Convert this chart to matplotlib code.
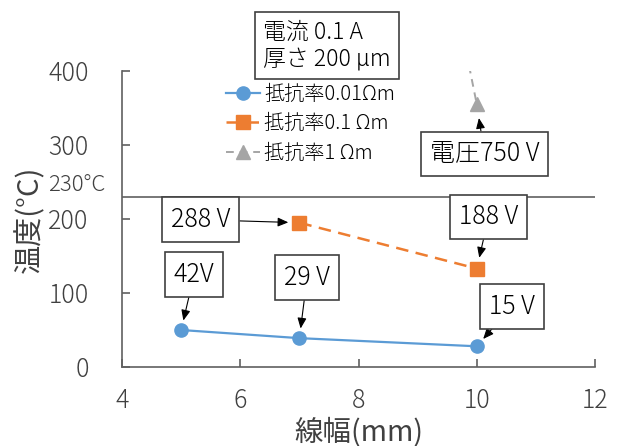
# -*- coding: utf-8 -*-

import matplotlib
matplotlib.use("Agg")
import matplotlib.pyplot as plt

plt.rcParams["font.family"] = ["Noto Sans CJK JP", "DejaVu Sans"]
plt.rcParams["font.weight"] = "light"

# データ
width_001 = [5, 7, 10]
temp_001 = [50, 39, 28]
volt_001 = ["42V", "29 V", "15 V"]

width_01 = [7, 10]
temp_01 = [195, 133]
volt_01 = ["288 V", "188 V"]

width_1 = [7, 10]
temp_1 = [1550, 355]
volt_1 = ["電圧750 V"]

labels = ["抵抗率0.01Ωm", "抵抗率0.1 Ωm", "抵抗率1 Ωm"]
limit_temp = 230

# ラベルの位置 (データ座標)
pos_001 = [(5.22, 125), (7.13, 121), (10.59, 82)]
pos_01 = [(5.33, 199), (10.20, 203)]
pos_1 = [(10.13, 288)]


def set_display(fig, ax):
    """
    表示周りの設定
    """
    ax.spines["right"].set_visible(False)
    ax.spines["top"].set_visible(False)
    for s in ["left", "bottom"]:
        ax.spines[s].set_color("#606060")
        ax.spines[s].set_linewidth(1.2)

    ax.set_xlim(4, 12)
    ax.set_ylim(0, 400)
    ax.set_xticks([4, 6, 8, 10, 12])
    ax.set_yticks([0, 100, 200, 300, 400])

    ax.tick_params(axis="both", direction="in", length=6, width=1.2,
                   color="#606060", labelsize=18, labelcolor="#404040")
    ax.tick_params(axis="y", pad=24)
    ax.tick_params(axis="x", pad=15)

    ax.set_xlabel("線幅(mm)", fontsize=20.5, color="#404040", labelpad=2)
    ax.set_ylabel("温度(°C)", fontsize=21, color="#404040", labelpad=2)


def note(ax, text, target, pos, shrink):
    ax.annotate(text, xy=target, xytext=pos, xycoords="data", textcoords="data",
                ha="center", va="center", fontsize=18, color="black",
                bbox=dict(boxstyle="square,pad=0.36", fc="white", ec="#404040", lw=1.2),
                arrowprops=dict(arrowstyle="-|>,head_length=0.35,head_width=0.15",
                                color="black", lw=0.8, shrinkA=0, shrinkB=shrink),
                annotation_clip=False)


def main():
    fig = plt.figure(figsize=(6.21, 4.46), dpi=100)
    ax = fig.add_axes([0.1965, 0.1771, 0.7617, 0.6637])

    # 基準温度
    ax.axhline(limit_temp, color="#606060", lw=1.2, zorder=1)

    ax.plot(width_001, temp_001, color="#5B9BD5", lw=1.6, marker="o",
            markersize=9.5, label=labels[0], zorder=3)
    ax.plot(width_01, temp_01, color="#ED7D31", lw=1.8, ls=(0, (5, 3)), marker="s",
            markersize=9.5, label=labels[1], zorder=3)
    ax.plot(width_1, temp_1, color="#A5A5A5", lw=1.4, ls=(0, (4, 3)), marker="^",
            markersize=10, label=labels[2], zorder=3)

    set_display(fig, ax)

    # 電圧ラベル
    for t, x, y, p in zip(volt_001, width_001, temp_001, pos_001):
        note(ax, t, (x, y), p, 7)
    for t, x, y, p in zip(volt_01, width_01, temp_01, pos_01):
        note(ax, t, (x, y), p, 8)
    for t, x, y, p in zip(volt_1, width_1[1:], temp_1[1:], pos_1):
        note(ax, t, (x, y), p, 10)

    fig.text(48 / 621, 1 - 185 / 446, "%d°C" % limit_temp, fontsize=16,
             color="#404040", ha="left", va="center")

    # 条件
    fig.text(263 / 621, 1 - 45.5 / 446, "電流 0.1 A\n厚さ 200 µm", fontsize=16.5,
             color="black", ha="left", va="center", linespacing=1.1,
             bbox=dict(boxstyle="square,pad=0.35", fc="white", ec="#404040", lw=1.2))

    ax.legend(loc="upper left", bbox_to_anchor=(226 / 621, 1 - 84 / 446),
              bbox_transform=fig.transFigure, frameon=False, fontsize=14.5,
              handlelength=1.7, handletextpad=0.2, labelspacing=0.42,
              borderpad=0, borderaxespad=0)

    fig.savefig("out.png", dpi=100)


if __name__ == '__main__':
    main()
